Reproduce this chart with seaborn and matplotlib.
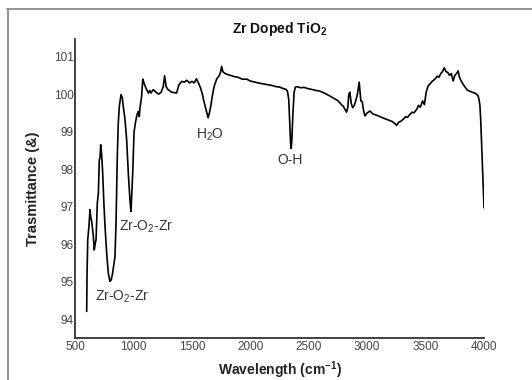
import matplotlib
matplotlib.use("Agg")
import matplotlib.pyplot as plt
import seaborn as sns
import pandas as pd
from matplotlib.lines import Line2D

wavenumber = [600, 603, 609, 620, 628, 636, 643, 650, 657, 665, 672, 680, 691, 700, 708, 714, 720, 728, 737, 747,
              757, 771, 785, 799, 810, 822, 842, 851, 862, 870, 879, 894, 905, 913, 928, 942, 956, 970, 979, 994,
              1005, 1015, 1022, 1030, 1042, 1050, 1056, 1070, 1080, 1090, 1106, 1127, 1140, 1149, 1170, 1194, 1215,
              1237, 1255, 1267, 1280, 1296, 1330, 1369, 1390, 1413, 1436, 1456, 1480, 1501, 1520, 1539, 1556, 1574,
              1590, 1603, 1620, 1639, 1650, 1662, 1675, 1691, 1712, 1735, 1745, 1755, 1765, 1779, 1800, 1830, 1860,
              1895, 1930, 1970, 2000, 2042, 2080, 2120, 2150, 2189, 2220, 2250, 2280, 2305, 2318, 2329, 2338, 2345,
              2350, 2356, 2365, 2375, 2385, 2393, 2410, 2432, 2460, 2490, 2520, 2560, 2596, 2640, 2681, 2720, 2752,
              2780, 2795, 2810, 2824, 2835, 2843, 2852, 2864, 2876, 2890, 2905, 2917, 2932, 2946, 2958, 2970, 2981,
              3000, 3024, 3050, 3081, 3110, 3140, 3166, 3190, 3215, 3235, 3252, 3270, 3290, 3308, 3330, 3345, 3366,
              3385, 3400, 3423, 3440, 3455, 3474, 3490, 3505, 3522, 3540, 3560, 3580, 3600, 3615, 3630, 3645, 3660,
              3675, 3690, 3705, 3720, 3736, 3750, 3765, 3779, 3790, 3805, 3822, 3840, 3860, 3879, 3900, 3920, 3936,
              3950, 3958, 3965, 3972, 3980, 3990, 4000]

transmittance = [94.21, 95.2, 96.12, 96.5, 96.92, 96.7, 96.61, 96.4, 96.21, 95.85, 96.0, 96.12, 97.10, 97.36, 98.25,
                 98.3, 98.65, 98.4, 97.90, 97.1, 96.47, 95.76, 95.23, 95.01, 95.05, 95.23, 95.67, 96.56, 98.34, 99.2,
                 99.67, 99.99, 99.9, 99.67, 99.32, 98.79, 97.90, 97.19, 96.87, 97.90, 98.97, 99.2, 99.32, 99.45,
                 99.54, 99.40, 99.63, 99.94, 100.40, 100.30, 100.17, 100.03, 100.10, 100.03, 100.12, 100.05, 100.00,
                 100.05, 100.20, 100.49, 100.20, 100.12, 100.05, 100.03, 100.25, 100.34, 100.32, 100.37, 100.30,
                 100.34, 100.30, 100.41, 100.30, 100.17, 100.00, 99.81, 99.60, 99.37, 99.50, 99.68, 99.95, 100.21,
                 100.40, 100.50, 100.58, 100.74, 100.60, 100.56, 100.53, 100.50, 100.47, 100.45, 100.40, 100.40,
                 100.35, 100.32, 100.29, 100.27, 100.25, 100.23, 100.20, 100.19, 100.15, 100.13, 100.08, 99.86,
                 99.2, 98.7, 98.55, 98.8, 99.5, 100.05, 100.18, 100.20, 100.19, 100.17, 100.18, 100.15, 100.13,
                 100.10, 100.08, 100.02, 99.95, 99.88, 99.82, 99.72, 99.68, 99.6, 99.52, 99.65, 100.0, 100.05,
                 99.75, 99.64, 99.7, 99.85, 100.0, 100.32, 99.82, 99.80, 99.55, 99.42, 99.50, 99.55, 99.47, 99.44,
                 99.40, 99.36, 99.33, 99.30, 99.27, 99.22, 99.17, 99.25, 99.28, 99.33, 99.40, 99.38, 99.46, 99.52,
                 99.50, 99.59, 99.70, 99.65, 99.82, 99.72, 100.05, 100.22, 100.28, 100.35, 100.40, 100.48, 100.45,
                 100.55, 100.60, 100.70, 100.60, 100.58, 100.50, 100.55, 100.35, 100.50, 100.55, 100.62, 100.45,
                 100.35, 100.26, 100.18, 100.10, 100.08, 100.05, 100.03, 100.0, 99.95, 99.85, 99.70, 99.3, 98.6,
                 97.8, 96.97]

x_ticks = [500, 1000, 1500, 2000, 2500, 3000, 3500, 4000]
y_ticks = [94, 95, 96, 97, 98, 99, 100, 101]

peak_labels = [r"Zr-O$_\mathregular{2}$-Zr", r"Zr-O$_\mathregular{2}$-Zr", r"H$_\mathregular{2}$O", "O-H"]
peak_label_x = [671, 876, 1535, 2228]
peak_label_y = [94.59, 96.46, 98.91, 98.25]

sns.set_style("white")
plt.rcParams["font.family"] = ["Liberation Sans", "DejaVu Sans"]
plt.rcParams["mathtext.fontset"] = "custom"
plt.rcParams["mathtext.rm"] = "Liberation Sans"
plt.rcParams["mathtext.bf"] = "Liberation Sans:bold"

fig = plt.figure(figsize=(5.32, 3.80), dpi=100)
ax = fig.add_axes([75 / 532, 1 - 338 / 380, (484 - 75) / 532, (338 - 39) / 380])

df = pd.DataFrame({"Wavelength": wavenumber, "Transmittance": transmittance})
sns.lineplot(data=df, x="Wavelength", y="Transmittance", ax=ax, color="black",
             linewidth=1.2, estimator=None, sort=False)

ax.set_xlim(500, 4000)
ax.set_ylim(93.5, 101.47)
ax.set_xticks(x_ticks)
ax.set_yticks(y_ticks)
ax.tick_params(axis="x", length=0, labelsize=8.5, colors="#444444", pad=2)
ax.tick_params(axis="y", length=0, labelsize=8.5, colors="#444444", pad=1)
for s in ["top", "right"]:
    ax.spines[s].set_visible(False)
for s in ["left", "bottom"]:
    ax.spines[s].set_color("#333333")
    ax.spines[s].set_linewidth(1.3)

ax.set_title(r"Zr Doped TiO$_\mathregular{2}$", fontsize=10, fontweight="bold", color="#111111", pad=4)
ax.set_xlabel(r"Wavelength (cm$^\mathregular{-1}$)", fontsize=10, fontweight="bold", color="#222222", labelpad=5)
ax.set_ylabel("Trasmittance (&)", fontsize=10.5, fontweight="bold", color="#222222", labelpad=10)

for txt, lx, ly in zip(peak_labels, peak_label_x, peak_label_y):
    ax.text(lx, ly, txt, fontsize=10, color="#333333", ha="left", va="center")

fig.add_artist(Line2D([7 / 532, 1.0], [1 - 8.5 / 380] * 2, transform=fig.transFigure,
                      color="#8a8a8a", linewidth=1.3))
fig.add_artist(Line2D([7.5 / 532] * 2, [0.0, 1 - 8.5 / 380], transform=fig.transFigure,
                      color="#8a8a8a", linewidth=1.3))

fig.savefig("out.png", dpi=100)
